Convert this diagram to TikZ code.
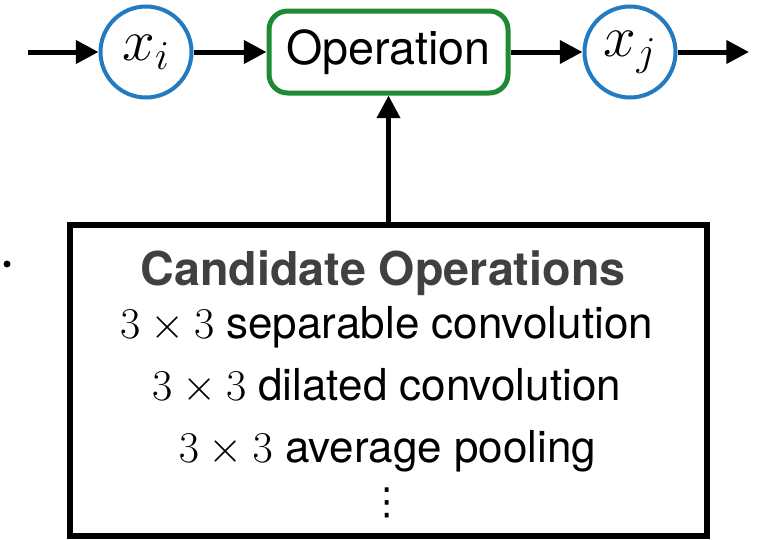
\RequirePackage{fix-cm}
\documentclass[tikz,border=0pt]{standalone}
\usepackage{fontspec}
\setsansfont{TeX Gyre Heros}
\newfontfamily\dotsfont{DejaVu Sans}
\usetikzlibrary{arrows.meta}

\definecolor{varblue}{RGB}{34,122,192}
\definecolor{opgreen}{RGB}{30,138,52}
\definecolor{titlegray}{RGB}{64,64,64}

\tikzset{every picture/.style={line width=0.75pt}}
\tikzset{
  varnode/.style={draw=varblue, line width=3pt, circle, minimum size=68.25pt, inner sep=0pt, font=\fontsize{44}{50}\selectfont},
  opnode/.style={draw=opgreen, line width=3.75pt, rounded corners=14pt, minimum width=179.25pt, minimum height=61.5pt, inner sep=0pt, font=\sffamily\fontsize{35}{42}\selectfont},
  candbox/.style={draw, line width=4.5pt, minimum width=477.75pt, minimum height=233.25pt, inner sep=0pt},
  flow/.style={line width=3.75pt, -{Triangle[length=17pt,width=17pt]}},
  optext/.style={anchor=base, inner sep=0pt, font=\sffamily\fontsize{33}{40}\selectfont},
}

\begin{document}
\begin{tikzpicture}[x=0.75pt,y=0.75pt,yscale=-1,xscale=1]
        \useasboundingbox (0,0) rectangle (759,539);

        %Shape: Circle
        \node [varnode] (xi) at (146,52) {$x_i$};
        %Shape: Rounded Rect
        \node [opnode] (op) at (388.5,52) {Operation};
        %Shape: Circle
        \node [varnode] (xj) at (630,52) {$x_j$};
        %Shape: Rectangle
        \node [candbox] (cands) at (388.5,380.5) {};

        \coordinate (in) at (28,52);
        \coordinate (out) at (749,52);

        %Straight Lines
        \draw [flow] (in) -- (xi);
        \draw [flow] (xi) -- (op);
        \draw [flow] (op) -- (xj);
        \draw [flow] (xj) -- (out);
        \draw [flow] (cands.north) -- (op.south);

        % Text Node
        \node [optext, font=\sffamily\bfseries\fontsize{35}{42}\selectfont, text=titlegray] (title) at (383,285) {Candidate Operations};
        % Text Node
        \node [optext] (sepconv) at (386.5,338) {$3\times3$ separable convolution};
        % Text Node
        \node [optext] (dilconv) at (386.5,400) {$3\times3$ dilated convolution};
        % Text Node
        \node [optext] (avgpool) at (387.5,462) {$3\times3$ average pooling};
        % Text Node
        \node [inner sep=0pt, font=\dotsfont\fontsize{28}{32}\selectfont] (more) at (387,503) {⋮};

        %Shape: Dot
        \fill (7,264) circle (2.6pt);

\end{tikzpicture}
\end{document}
